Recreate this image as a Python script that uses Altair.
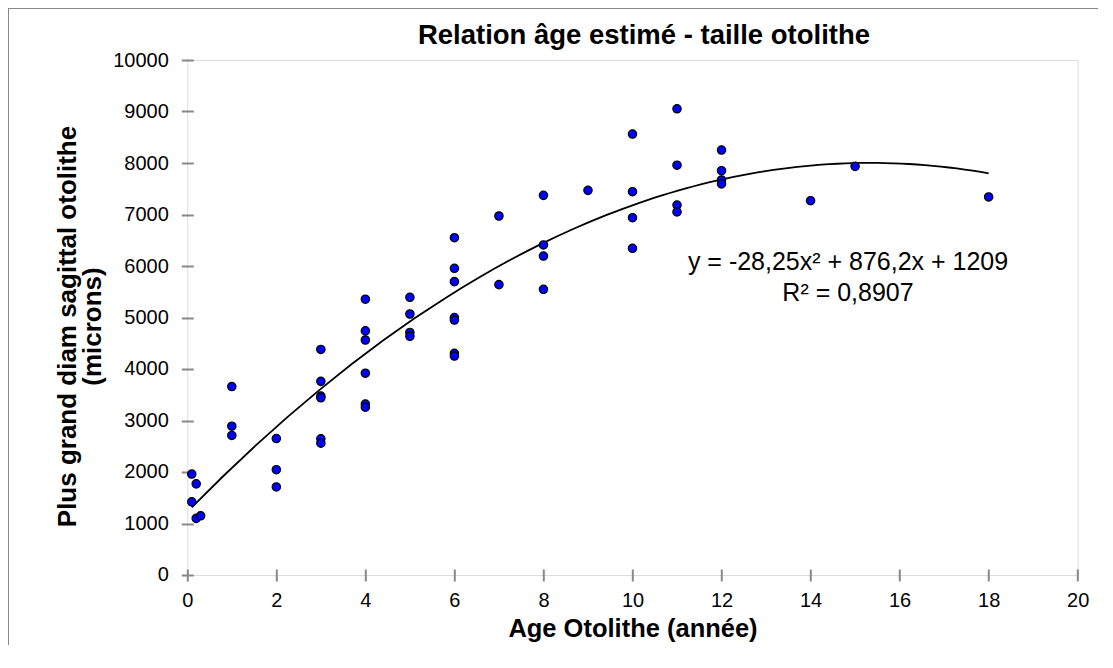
import altair as alt
import pandas as pd

# Data
age = [0.1, 0.1, 0.2, 0.2, 0.3,
       1, 1, 1,
       2, 2, 2,
       3, 3, 3, 3, 3, 3,
       4, 4, 4, 4, 4, 4,
       5, 5, 5, 5,
       6, 6, 6, 6, 6, 6, 6,
       7, 7,
       8, 8, 8, 8,
       9,
       10, 10, 10, 10,
       11, 11, 11, 11,
       12, 12, 12, 12,
       14, 15, 18]
taille = [1960, 1420, 1770, 1100, 1150,
          3660, 2890, 2710,
          2650, 2045, 1710,
          4380, 3760, 3475, 3440, 2645, 2560,
          5355, 4740, 4563, 3918, 3320, 3258,
          5392, 5068, 4710, 4635,
          6550, 5955, 5696, 4997, 4951, 4304, 4252,
          6971, 5638,
          7372, 6408, 6194, 5547,
          7469,
          8563, 7443, 6938, 6344,
          9052, 7958, 7184, 7050,
          8252, 7851, 7670, 7595,
          7268, 7935, 7340]

x_ticks = [0, 2, 4, 6, 8, 10, 12, 14, 16, 18, 20]
y_ticks = [0, 1000, 2000, 3000, 4000, 5000, 6000, 7000, 8000, 9000, 10000]

title_text = "Relation âge estimé - taille otolithe"
x_title = "Age Otolithe (année)"
y_title = ["Plus grand diam sagittal otolithe", "(microns)"]
equation = ["y = -28,25x² + 876,2x + 1209", "R² = 0,8907"]

df = pd.DataFrame({"age": age, "taille": taille})
one_row = pd.DataFrame({"k": [0]})

FONT = "Liberation Sans, Arial, sans-serif"
GRAY = "#888888"

x_scale = alt.Scale(domain=[0, 20], nice=False)
y_scale = alt.Scale(domain=[0, 10000], nice=False)

x_axis = alt.Axis(values=x_ticks, title=x_title, grid=False, domain=False,
                  offset=-6, tickSize=12, tickWidth=2, tickColor=GRAY,
                  labelFontSize=20, labelPadding=10, labelColor="black",
                  labelFont=FONT, titleFont=FONT, titleFontSize=25.5,
                  titleFontWeight="bold", titleColor="black",
                  titleBaseline="alphabetic", titleY=68, labelFlush=False)
y_axis = alt.Axis(values=y_ticks, title=y_title, grid=False, domain=False,
                  offset=-6, tickSize=12, tickWidth=2, tickColor=GRAY,
                  labelFontSize=20, labelPadding=13, labelColor="black",
                  labelFont=FONT, titleFont=FONT, titleFontSize=26,
                  titleFontWeight="bold", titleColor="black", format="d",
                  titleAngle=-90, titleBaseline="alphabetic", titleAlign="center",
                  titleX=-118, titleY=266, titleLineHeight=25, labelFlush=False)

base = alt.Chart(df)

points = base.mark_point(filled=True, fill="#0000FF", stroke="black",
                         strokeWidth=1.2, size=70, shape="circle", opacity=1).encode(
    x=alt.X("age:Q", scale=x_scale, axis=x_axis),
    y=alt.Y("taille:Q", scale=y_scale, axis=y_axis),
)

trend = base.transform_regression("age", "taille", method="poly", order=2).mark_line(
    color="black", strokeWidth=1.8).encode(
    x=alt.X("age:Q", scale=x_scale),
    y=alt.Y("taille:Q", scale=y_scale),
)

eq_text = alt.Chart(one_row).mark_text(
    text=equation, font=FONT, fontSize=25, align="center",
    baseline="alphabetic", lineHeight=31, color="black").encode(
    x=alt.value(660.7), y=alt.value(210))

title_mark = alt.Chart(one_row).mark_text(
    text=title_text, font=FONT, fontSize=27.5, fontWeight="bold", align="center",
    baseline="alphabetic", color="black").encode(
    x=alt.value(456.7), y=alt.value(-16.5))

outer = alt.Chart(one_row).mark_rect(
    filled=False, stroke=GRAY, strokeWidth=2, fill=None).encode(
    x=alt.value(-179.3), x2=alt.value(1300), y=alt.value(-52), y2=alt.value(800))

chart = alt.layer(outer, trend, points, eq_text, title_mark).properties(
    width=890.4, height=515,
    autosize=alt.AutoSizeParams(type="none"),
    padding={"left": 179.3, "top": 52, "right": 20, "bottom": 70},
).configure_view(stroke=GRAY, strokeWidth=2).configure(background="white")

chart.save("out.html", embed_options={"renderer": "svg", "actions": False})
